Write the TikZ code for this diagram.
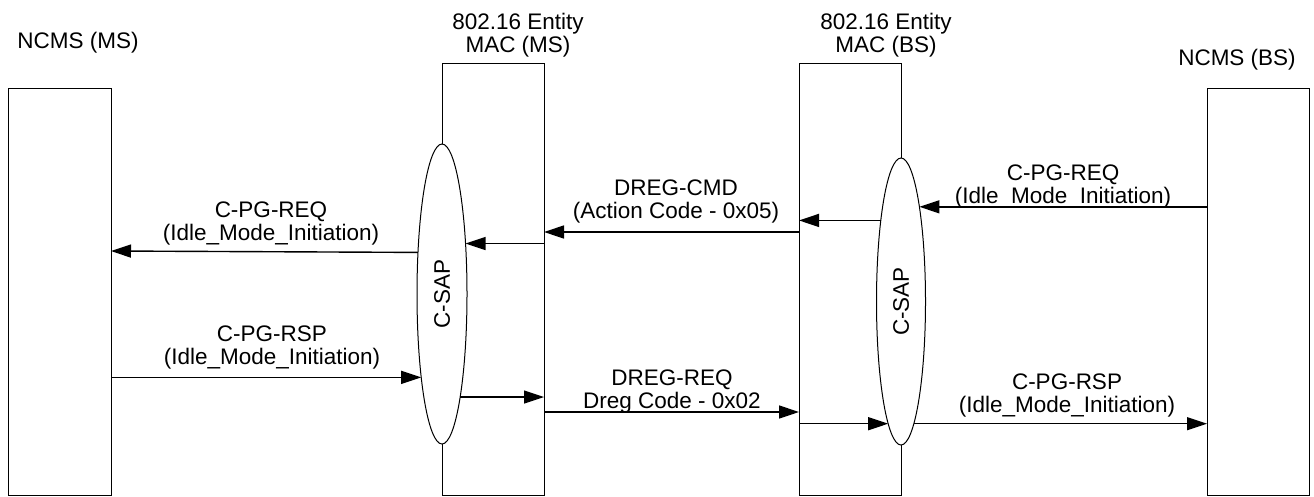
\documentclass[tikz,border=0pt]{standalone}
\usepackage{fontspec}
\setmainfont{Liberation Sans}
\usetikzlibrary{arrows.meta,shapes.geometric}

\tikzset{
    entity/.style={draw, rectangle, line width=1pt, inner sep=0pt, outer sep=0pt, minimum width=102pt},
    sap/.style={draw, ellipse, fill=white, line width=1pt, inner sep=0pt, outer sep=0pt},
    msg/.style={line width=1.4pt, -{Triangle[length=20pt,width=13pt]}},
    lbl/.style={align=center, inner sep=0pt, font=\fontsize{22.5}{23.5}\selectfont},
}

\begin{document}
\begin{tikzpicture}[x=1pt, y=-1pt]
            \useasboundingbox (0,0) rectangle (1314,496);

            \node[entity, minimum width=103pt, minimum height=407pt] (nms) at (59.5,291.5) {}; %NCMS (MS)
            \node[entity, minimum height=432pt] (mms) at (493,279) {};
            \node[entity, minimum height=432pt] (mbs) at (850,279) {};
            \node[entity, minimum height=407pt] (nbs) at (1258,291.5) {}; %NCMS (BS)

            \node[sap, minimum width=50pt, minimum height=300pt, font=\fontsize{22.5}{23.5}\selectfont] (sapms) at (mms.west |- 0,294) {\rotatebox{90}{C-SAP}};
            \node[sap, minimum width=49pt, minimum height=287pt, font=\fontsize{22.5}{23.5}\selectfont] (sapbs) at (mbs.east |- 0,301.5) {\rotatebox{90}{C-SAP}};

            \node[lbl, anchor=base] (nmsname) at (78,48) {NCMS (MS)};
            \node[lbl, anchor=south] (mmsname) at (518,57.4) {802.16 Entity\\MAC (MS)};
            \node[lbl, anchor=south] (mbsname) at (886,57.4) {802.16 Entity\\MAC (BS)};
            \node[lbl, anchor=base] (nbsname) at (1237,65) {NCMS (BS)};

            % MS side
            \draw[msg] (sapms.120) -- (nms.east |- 0,251);
            \draw[msg] (mms.east |- sapms.65) -- (sapms.65);
            \draw[msg] (nms.east |- sapms.256) -- (sapms.256);
            \draw[msg] (sapms.280) -- (mms.east |- sapms.280);

            % MAC to MAC
            \draw[msg] (mbs.west |- 0,232) -- (mms.east |- 0,232);
            \draw[msg] (mms.east |- 0,412) -- (mbs.west |- 0,412);

            % BS side
            \draw[msg] (nbs.west |- sapbs.79) -- (sapbs.79);
            \draw[msg] (sapbs.104) -- (mbs.west |- sapbs.104);
            \draw[msg] (mbs.west |- sapbs.264) -- (sapbs.264);
            \draw[msg] (sapbs.276) -- (nbs.west |- sapbs.276);

            \node[lbl, anchor=south] (reqms) at (271,245.7) {C-PG-REQ\\(Idle\_Mode\_Initiation)};
            \node[lbl, anchor=south] (cmd) at (676,223.7) {DREG-CMD\\(Action Code - 0x05)};
            \node[lbl, anchor=south] (reqbs) at (1063,208.7) {C-PG-REQ\\(Idle\_Mode\_Initiation)};
            \node[lbl, anchor=south] (rspms) at (272,369.7) {C-PG-RSP\\(Idle\_Mode\_Initiation)};
            \node[lbl, anchor=south] (dreq) at (672,413.7) {DREG-REQ\\Dreg Code - 0x02};
            \node[lbl, anchor=south] (rspbs) at (1067,417.7) {C-PG-RSP\\(Idle\_Mode\_Initiation)};
\end{tikzpicture}
\end{document}
